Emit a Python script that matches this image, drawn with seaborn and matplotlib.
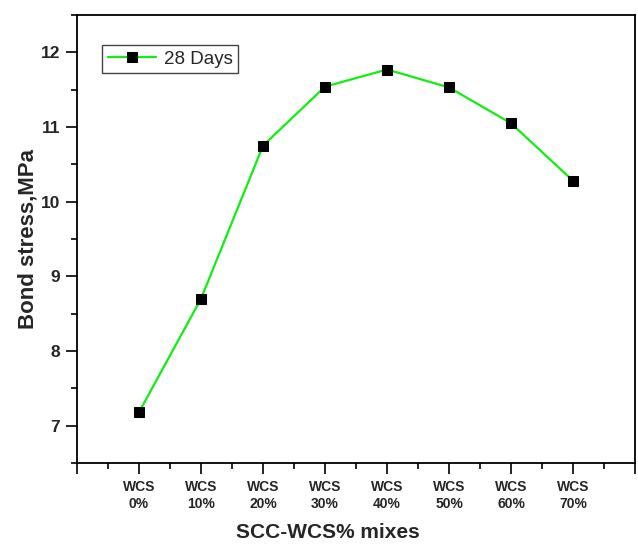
import matplotlib
matplotlib.use("Agg")
import matplotlib.pyplot as plt
import seaborn as sns
import pandas as pd
from matplotlib.ticker import FixedLocator, MultipleLocator

# Bond stress at 28 days for each WCS replacement level
mixes = ["WCS\n0%", "WCS\n10%", "WCS\n20%", "WCS\n30%",
         "WCS\n40%", "WCS\n50%", "WCS\n60%", "WCS\n70%"]
bond_stress = [7.18, 8.70, 10.75, 11.54, 11.77, 11.53, 11.05, 10.28]
series_label = "28 Days"

df = pd.DataFrame({"pos": list(range(len(mixes))),
                   "stress": bond_stress,
                   "series": series_label})

sns.set_style("ticks")
plt.rcParams["font.family"] = ["Liberation Sans", "DejaVu Sans"]

fig = plt.figure(figsize=(6.38, 5.45), dpi=100)
ax = fig.add_axes([77 / 638, 82 / 545, 558 / 638, 448 / 545])

sns.lineplot(data=df, x="pos", y="stress", hue="series",
             palette=["#11ee11"], marker="s", markersize=7,
             markerfacecolor="black", markeredgecolor="black",
             linewidth=1.6, ax=ax)

ax.set_xlim(-1, 8)
ax.set_ylim(6.5, 12.5)

ax.xaxis.set_major_locator(FixedLocator(list(range(-1, 9))))
ax.set_xticklabels([""] + mixes + [""])
ax.xaxis.set_minor_locator(MultipleLocator(0.5))
ax.yaxis.set_major_locator(FixedLocator([7, 8, 9, 10, 11, 12]))
ax.yaxis.set_minor_locator(MultipleLocator(0.5))

ax.tick_params(axis="both", which="major", direction="out", length=8,
               width=1.2, color="black")
ax.tick_params(axis="both", which="minor", direction="out", length=4,
               width=1.2, color="black")
ax.tick_params(axis="x", which="major", pad=4)
ax.tick_params(axis="y", which="major", pad=4)

for lab in ax.get_xticklabels():
    lab.set_fontweight("bold")
    lab.set_fontsize(10)
    lab.set_linespacing(1.3)
for lab in ax.get_yticklabels():
    lab.set_fontweight("bold")
    lab.set_fontsize(12.5)

for sp in ax.spines.values():
    sp.set_visible(True)
    sp.set_color("black")
    sp.set_linewidth(1.3)

ax.set_xlabel("SCC-WCS% mixes", fontsize=15, fontweight="bold")
ax.set_ylabel("Bond stress,MPa", fontsize=16, fontweight="bold")
ax.xaxis.set_label_coords(0.45, -0.156)
ax.xaxis.label.set_va("center")
ax.yaxis.set_label_coords(-0.087, 0.5)
ax.yaxis.label.set_va("center")

leg = ax.legend(loc="upper left", bbox_to_anchor=(0.045, 0.933),
                borderaxespad=0, fancybox=False, framealpha=1,
                edgecolor="#444444", fontsize=13.5, handlelength=2.6,
                handletextpad=0.4, borderpad=0.3)
leg.get_frame().set_linewidth(1.0)

fig.savefig("out.png", dpi=100)
